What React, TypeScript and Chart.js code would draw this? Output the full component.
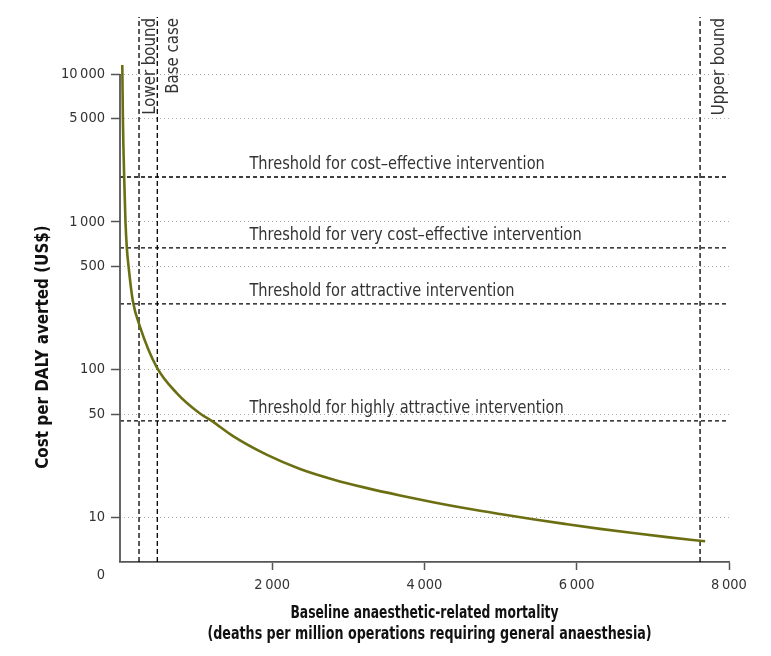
import React, { useEffect, useRef } from 'react';
import { Chart, registerables } from 'chart.js';

Chart.register(...registerables);

// ---- Data ----
const mortality = [30, 38, 55, 72, 90, 112, 167, 263, 482, 745, 1051, 1205, 1485, 1932, 2365, 2799, 3246, 3680, 4113, 4560, 4993, 5427, 5874, 6307, 6741, 7188, 7687];
const costPerDaly = [11500, 5000, 2005, 1000, 664, 501, 295, 195, 104, 69.5, 50.5, 45, 35.5, 26.5, 21.3, 18.1, 15.8, 14.1, 12.7, 11.5, 10.55, 9.72, 9.0, 8.38, 7.85, 7.37, 6.9];

const thresholdValues = [2010, 667, 279, 45];
const thresholdLabels = [
  'Threshold for cost\u2013effective intervention',
  'Threshold for very cost\u2013effective intervention',
  'Threshold for attractive intervention',
  'Threshold for highly attractive intervention',
];

const boundValues = [250, 490, 7620];
const boundLabels = ['Lower bound', 'Base case', 'Upper bound'];

const yTickValues = [10, 50, 100, 500, 1000, 5000, 10000];
const xTickValues = [2000, 4000, 6000, 8000];
const yAxisMin = 5;
const yAxisMax = 24300;
const xAxisMin = 0;
const xAxisMax = 8000;
const yOriginLabel = '0';

const xTitle = ['Baseline anaesthetic-related mortality', '(deaths per million operations requiring general anaesthesia)'];
const yTitle = 'Cost per DALY averted (US$)';

const FONT = "'DejaVu Sans Condensed', 'DejaVu Sans', sans-serif";

const fmt = (v: number) => {
  const s = String(Math.round(v));
  return s.replace(/\B(?=(\d{3})+(?!\d))/g, '\u2009');
};

export default function App() {
  const ref = useRef<HTMLCanvasElement | null>(null);

  useEffect(() => {
    if (!ref.current) return;
    const datasets: any[] = [];
    datasets.push({
      label: 'Cost per DALY averted',
      data: mortality.map((m, i) => ({ x: m, y: costPerDaly[i] })),
      borderColor: '#6b6f12',
      borderWidth: 2.6,
      pointRadius: 0,
      cubicInterpolationMode: 'monotone',
      fill: false,
      order: 0,
    });
    thresholdValues.forEach((v, i) => {
      datasets.push({
        label: thresholdLabels[i],
        data: [{ x: xAxisMin, y: v }, { x: xAxisMax, y: v }],
        borderColor: '#000',
        borderWidth: 1.3,
        borderDash: [4, 3],
        pointRadius: 0,
        fill: false,
        order: 1,
      });
    });
    boundValues.forEach((v, i) => {
      datasets.push({
        label: boundLabels[i],
        data: [{ x: v, y: yAxisMin }, { x: v, y: yAxisMax }],
        borderColor: '#000',
        borderWidth: 1.3,
        borderDash: [5, 3],
        pointRadius: 0,
        fill: false,
        order: 1,
      });
    });

    const textPlugin = {
      id: 'annotText',
      afterDatasetsDraw(chart: any) {
        const ctx = chart.ctx;
        const xs = chart.scales.x;
        const ys = chart.scales.y;
        const area = chart.chartArea;
        ctx.save();
        // y axis line (starts at the top tick, as in the reference)
        ctx.strokeStyle = '#555';
        ctx.lineWidth = 1.8;
        ctx.beginPath();
        ctx.moveTo(area.left, ys.getPixelForValue(yTickValues[yTickValues.length - 1]));
        ctx.lineTo(area.left, area.bottom);
        ctx.stroke();

        ctx.fillStyle = '#333';
        ctx.font = `18.5px ${FONT}`;
        ctx.textAlign = 'left';
        ctx.textBaseline = 'alphabetic';
        const labelX = xs.getPixelForValue(1700);
        thresholdValues.forEach((v, i) => {
          ctx.save();
          ctx.translate(labelX, ys.getPixelForValue(v) - 8);
          ctx.scale(0.876, 1);
          ctx.fillText(thresholdLabels[i], 0, 0);
          ctx.restore();
        });
        const offs = [16, 21, 24];
        boundValues.forEach((v, i) => {
          const px = xs.getPixelForValue(v) + offs[i];
          ctx.save();
          ctx.translate(px, area.top + 1);
          ctx.rotate(-Math.PI / 2);
          ctx.scale(0.9, 1);
          ctx.textAlign = 'right';
          ctx.fillText(boundLabels[i], 0, 0);
          ctx.restore();
        });
        // origin label
        ctx.font = `14.5px ${FONT}`;
        ctx.textAlign = 'right';
        ctx.textBaseline = 'middle';
        ctx.fillText(yOriginLabel, area.left - 15, area.bottom + 13);
        // y title
        ctx.fillStyle = '#111';
        ctx.font = `bold 18.5px ${FONT}`;
        ctx.save();
        ctx.translate(43, 347);
        ctx.rotate(-Math.PI / 2);
        ctx.scale(0.91, 1);
        ctx.textAlign = 'center';
        ctx.textBaseline = 'middle';
        ctx.fillText(yTitle, 0, 0);
        ctx.restore();
        // x title (two lines)
        const cx = (area.left + area.right) / 2;
        const lineY = [613, 634];
        const lineScale = [0.74, 0.764];
        xTitle.forEach((t, i) => {
          ctx.save();
          ctx.translate(cx + (i === 1 ? 5 : 0), lineY[i]);
          ctx.scale(lineScale[i], 1);
          ctx.textAlign = 'center';
          ctx.textBaseline = 'middle';
          ctx.fillText(t, 0, 0);
          ctx.restore();
        });
        ctx.restore();
      },
    };

    const chart = new Chart(ref.current, {
      type: 'line',
      data: { datasets },
      options: {
        animation: false,
        responsive: false,
        events: [],
        layout: { padding: { left: 0, right: 42, top: 17, bottom: 0 } },
        plugins: { legend: { display: false }, tooltip: { enabled: false } },
        scales: {
          x: {
            type: 'linear',
            min: xAxisMin,
            max: xAxisMax,
            afterBuildTicks: (s: any) => { s.ticks = xTickValues.map((v) => ({ value: v })); },
            afterFit: (s: any) => { s.height = 94; },
            ticks: {
              callback: (v: any) => fmt(Number(v)),
              font: { family: FONT, size: 14.5 },
              color: '#333',
              padding: 7,
              maxRotation: 0,
            },
            grid: {
              drawOnChartArea: false,
              drawTicks: true,
              tickLength: 8,
              tickColor: '#555',
              tickWidth: 1.5,
              color: '#555',
            },
            border: { display: true, color: '#555', width: 1.8 },
          },
          y: {
            type: 'logarithmic',
            min: yAxisMin,
            max: yAxisMax,
            afterBuildTicks: (s: any) => { s.ticks = yTickValues.map((v) => ({ value: v })); },
            afterFit: (s: any) => { s.width = 120; },
            ticks: {
              callback: (v: any) => fmt(Number(v)),
              font: { family: FONT, size: 14.5 },
              color: '#333',
              padding: 6,
              autoSkip: false,
            },
            grid: {
              drawOnChartArea: true,
              drawTicks: true,
              tickLength: 9,
              tickColor: '#555',
              tickWidth: 1.5,
              color: '#ababab',
              lineWidth: 1,
            },
            border: { display: false, dash: [1, 3] },
          },
        },
      } as any,
      plugins: [textPlugin],
    });
    return () => chart.destroy();
  }, []);

  return (
    <div style={{ position: 'absolute', left: 0, top: 0, width: 771, height: 656, background: '#fff' }}>
      <canvas ref={ref} width={771} height={656} style={{ display: 'block' }} />
    </div>
  );
}
